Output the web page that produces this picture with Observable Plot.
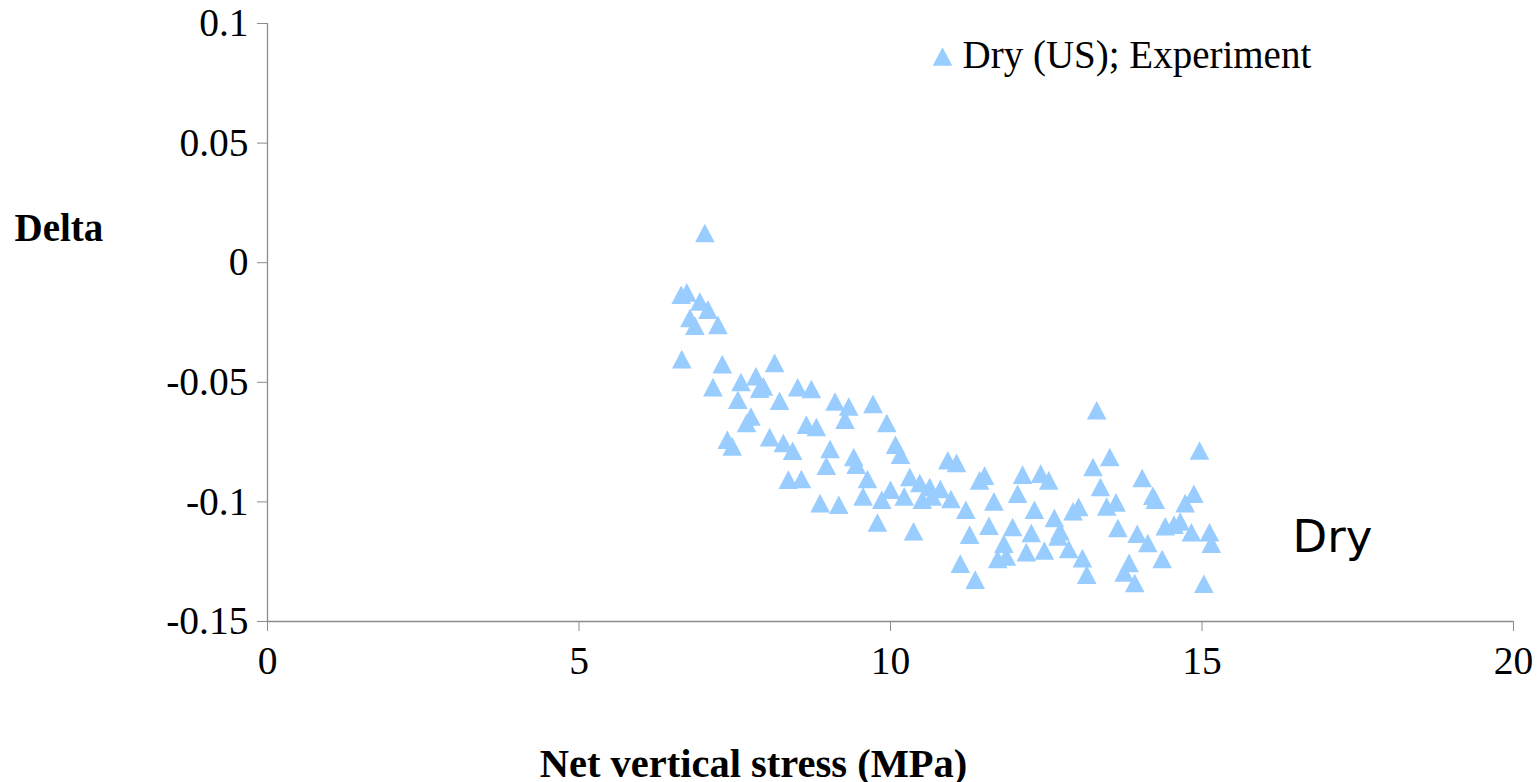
<!DOCTYPE html>
<html>
<head>
<meta charset="utf-8">
<script src="https://cdn.jsdelivr.net/npm/d3@7"></script>
<script src="https://cdn.jsdelivr.net/npm/@observablehq/plot@0.6"></script>
<style>
  html, body { margin: 0; padding: 0; background: #fff; }
</style>
</head>
<body>
<div id="chart"></div>
<script>
// Net vertical stress (MPa)
const stress = [
  7.02, 6.64, 6.73, 6.94, 7.07, 6.78, 6.86, 7.23, 6.65, 7.30,
  8.14, 7.15, 7.60, 7.84, 7.96, 7.90, 7.55, 8.22, 8.51, 8.73,
  9.11, 9.33, 9.72, 9.27, 9.94, 7.69, 7.76, 8.65, 8.81, 7.38,
  7.46, 8.06, 8.28, 8.43, 9.03, 9.41, 8.97, 9.45, 10.08, 10.16,
  8.36, 8.57, 9.63, 9.56, 10.00, 9.86, 10.31, 10.22, 8.87, 9.17,
  9.79, 13.31, 13.52, 13.25, 14.96, 10.92, 11.06, 10.47, 10.63, 10.80,
  10.51, 10.67, 10.97, 11.43, 11.51, 12.12, 12.41, 12.54, 12.04, 11.66,
  11.21, 12.31, 12.63, 12.93, 13.02, 13.37, 13.47, 13.62, 14.04, 14.21,
  14.25, 14.87, 14.73, 10.37, 11.27, 11.58, 11.96, 11.82, 11.72, 11.86,
  12.18, 12.26, 12.47, 12.72, 12.69, 12.86, 13.08, 13.15, 13.65, 13.96,
  14.13, 13.83, 13.75, 13.92, 14.36, 14.41, 14.55, 14.65, 14.83, 15.12,
  15.15, 15.03, 11.12, 11.36
];
// Delta
const delta = [
  0.0124, -0.0134, -0.0124, -0.0162, -0.0196, -0.0231, -0.0263, -0.0260, -0.0403, -0.0424,
  -0.0419, -0.0520, -0.0499, -0.0475, -0.0517, -0.0527, -0.0573, -0.0577, -0.0521, -0.0528,
  -0.0580, -0.0601, -0.0590, -0.0656, -0.0670, -0.0670, -0.0643, -0.0677, -0.0687, -0.0740,
  -0.0768, -0.0729, -0.0754, -0.0786, -0.0779, -0.0812, -0.0849, -0.0844, -0.0761, -0.0803,
  -0.0907, -0.0904, -0.0904, -0.0977, -0.0949, -0.0991, -0.0896, -0.0977, -0.1005, -0.1012,
  -0.1086, -0.0617, -0.0812, -0.0854, -0.0785, -0.0826, -0.0837, -0.0921, -0.0938, -0.0946,
  -0.0991, -0.0977, -0.0988, -0.0910, -0.0890, -0.0886, -0.0882, -0.0910, -0.0966, -0.0998,
  -0.1033, -0.1033, -0.1067, -0.1039, -0.1021, -0.0938, -0.1019, -0.1002, -0.0900, -0.0974,
  -0.0991, -0.0966, -0.1005, -0.1123, -0.1137, -0.1100, -0.1105, -0.1175, -0.1239, -0.1228,
  -0.1210, -0.1130, -0.1203, -0.1123, -0.1144, -0.1197, -0.1235, -0.1304, -0.1109, -0.1133,
  -0.1172, -0.1255, -0.1295, -0.1339, -0.1239, -0.1102, -0.1095, -0.1082, -0.1127, -0.1127,
  -0.1175, -0.1342, -0.1258, -0.1325
];

const xTicks = [0, 5, 10, 15, 20];
const xTickLabels = ["0", "5", "10", "15", "20"];
const yTicks = [-0.15, -0.1, -0.05, 0, 0.05, 0.1];
const yTickLabels = ["-0.15", "-0.1", "-0.05", "0", "0.05", "0.1"];

const seriesName = "Dry (US); Experiment";
const xTitle = "Net vertical stress (MPa)";
const yTitle = "Delta";
const annotation = "Dry";

const data = stress.map((s, i) => ({stress: s, delta: delta[i]}));

const markerColor = "#99ccff";
const axisGray = "#8c8c8c";
const serif = "Liberation Serif";

// isosceles triangle marker, centered on its bounding box
const tri = {
  draw(context) {
    const w = 9.8, h = 9.3;
    context.moveTo(0, -h);
    context.lineTo(w, h);
    context.lineTo(-w, h);
    context.closePath();
  }
};

const W = 1540, H = 782;
const mL = 267, mR = 27, mT = 23, mB = 161;

const chart = Plot.plot({
  width: W,
  height: H,
  marginLeft: mL,
  marginRight: mR,
  marginTop: mT,
  marginBottom: mB,
  style: {fontFamily: serif, fontSize: "39px", color: "black", background: "white"},
  x: {domain: [0, 20]},
  y: {domain: [-0.15, 0.1]},
  marks: [
    Plot.axisY({
      ticks: yTicks,
      tickFormat: d => yTickLabels[yTicks.indexOf(d)],
      tickSize: 10,
      tickPadding: 9,
      stroke: axisGray,
      fill: "black",
      label: null,
      fontSize: 39.5
    }),
    Plot.axisX({
      ticks: xTicks,
      tickFormat: d => xTickLabels[xTicks.indexOf(d)],
      tickSize: 10,
      tickPadding: 14,
      stroke: axisGray,
      fill: "black",
      label: null,
      fontSize: 39.5
    }),
    Plot.ruleX([0], {stroke: axisGray, strokeWidth: 1.3}),
    Plot.ruleY([-0.15], {stroke: axisGray, strokeWidth: 1.3}),
    Plot.dot(data, {
      x: "stress",
      y: "delta",
      symbol: tri,
      fill: markerColor,
      stroke: "none",
      r: 6
    }),
    // legend
    Plot.dot([seriesName], {
      frameAnchor: "top-left",
      dx: 942 - mL,
      dy: 56 - mT,
      symbol: tri,
      fill: markerColor,
      stroke: "none",
      r: 6
    }),
    Plot.text([seriesName], {
      frameAnchor: "top-left",
      dx: 962 - mL,
      dy: 55 - mT,
      textAnchor: "start",
      lineAnchor: "middle",
      fontSize: 39,
      fill: "black"
    }),
    // axis titles
    Plot.text([yTitle], {
      frameAnchor: "top-left",
      dx: 14 - mL,
      dy: 228 - mT,
      textAnchor: "start",
      lineAnchor: "middle",
      fontSize: 39,
      fontWeight: "bold",
      fill: "black"
    }),
    Plot.text([xTitle], {
      frameAnchor: "bottom-left",
      dx: 753 - mL,
      dy: 764 - (H - mB),
      textAnchor: "middle",
      lineAnchor: "middle",
      fontSize: 40.5,
      fontWeight: "bold",
      fill: "black"
    }),
    // annotation
    Plot.text([annotation], {
      frameAnchor: "top-left",
      dx: 1292 - mL,
      dy: 537 - mT,
      textAnchor: "start",
      lineAnchor: "middle",
      fontSize: 45,
      fontFamily: "DejaVu Sans",
      fill: "black"
    })
  ]
});

document.getElementById("chart").appendChild(chart);
</script>
</body>
</html>
